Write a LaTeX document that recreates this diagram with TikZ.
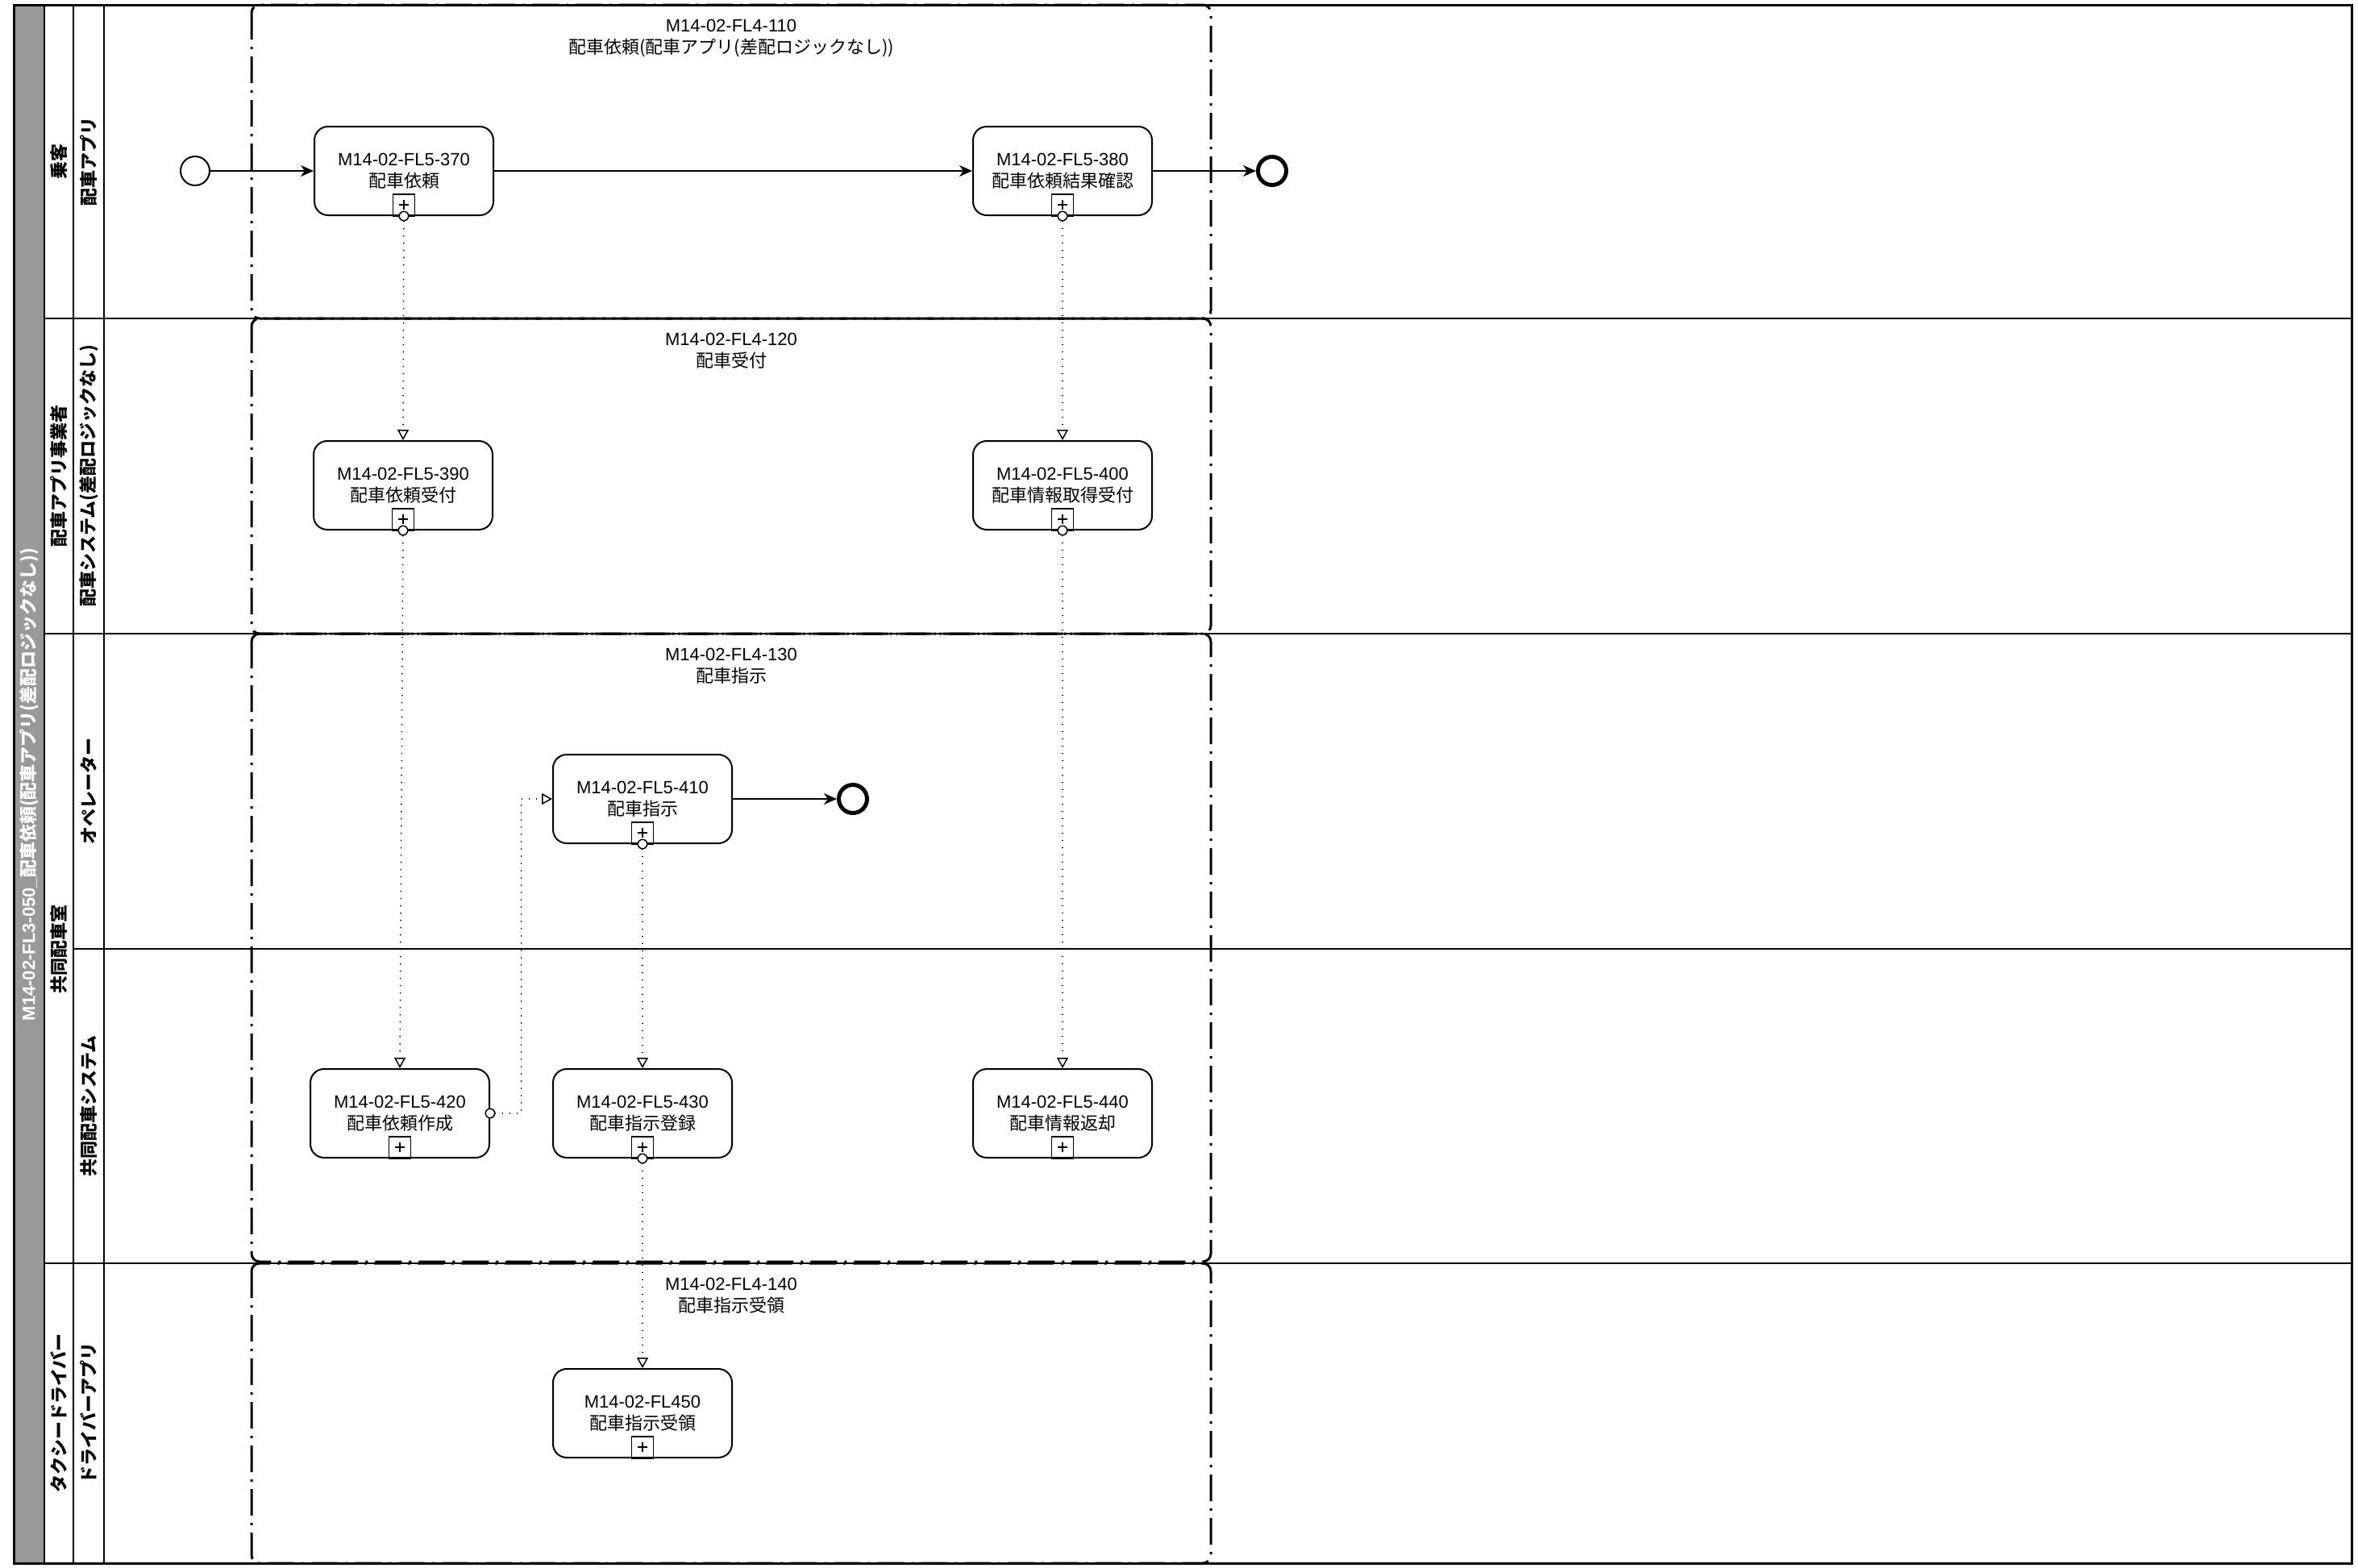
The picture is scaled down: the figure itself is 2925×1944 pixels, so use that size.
\documentclass[tikz,border=0pt]{standalone}
\usepackage{fontspec}
\setmainfont{Liberation Sans}
\newfontfamily\jp{Noto Sans CJK JP}
\usetikzlibrary{arrows.meta}
\definecolor{poolgray}{HTML}{999999}

\begin{document}
\begin{tikzpicture}[x=1pt, y=-1pt, font=\fontsize{22}{27}\selectfont,
  task/.style={draw, fill=white, line width=2pt, rounded corners=17pt, minimum width=222pt, minimum height=110pt, align=center, inner sep=0pt},
  grp/.style={line width=3pt, rounded corners=10pt, dash pattern=on 33pt off 9pt on 3pt off 9pt},
  grplbl/.style={anchor=north, align=center, inner sep=0pt},
  lanelbl/.style={rotate=90, font=\fontsize{22}{26}\selectfont\bfseries\jp, inner sep=0pt},
  seq/.style={line width=2pt, -{Stealth[length=16pt, width=14pt, inset=5pt]}},
  msg/.style={line width=1.5pt, dash pattern=on 1.5pt off 7.5pt, {Circle[length=13pt, width=13pt, fill=white]}-{Triangle[open, length=13pt, width=14pt]}},
  endev/.style={draw, circle, line width=5pt, minimum size=35pt, inner sep=0pt}]

\useasboundingbox (0,0) rectangle (2925,1944);

\fill[poolgray] (17,6) rectangle (55,1939);
\draw[line width=3pt] (17,6) rectangle (2917,1939);
\draw[line width=2pt] (55,6) -- (55,1939);
\draw[line width=2pt] (91,6) -- (91,1939);
\draw[line width=2pt] (129,6) -- (129,1939);
\foreach \y in {395, 786, 1567}
 \draw[line width=2pt] (55,\y) -- (2917,\y);
\draw[line width=2pt] (91,1177) -- (2917,1177);

\node[lanelbl, text=white] (pool) at (36,973) {{\rmfamily M14-02-FL3-050\_}配車依頼(配車アプリ(差配ロジックなし))};
\node[lanelbl] (l1) at (73,200) {乗客};
\node[lanelbl] (l2) at (73,590) {配車アプリ事業者};
\node[lanelbl] (l3) at (73,1177) {共同配車室};
\node[lanelbl] (l4) at (73,1753) {タクシードライバー};
\node[lanelbl] (s1) at (110,200) {配車アプリ};
\node[lanelbl] (s2) at (110,590) {配車システム(差配ロジックなし)};
\node[lanelbl] (s3) at (110,981) {オペレーター};
\node[lanelbl] (s4) at (110,1372) {共同配車システム};
\node[lanelbl] (s5) at (110,1753) {ドライバーアプリ};

\draw[grp] (312,6) rectangle (1502,395);
\draw[grp] (312,395) rectangle (1502,786);
\draw[grp] (312,786) rectangle (1502,1565);
\draw[grp] (312,1567) rectangle (1502,1939);
\node[grplbl] (g110) at (907,24) {M14-02-FL4-110\\{\jp 配車依頼(配車アプリ(差配ロジックなし))}};
\node[grplbl] (g120) at (907,413) {M14-02-FL4-120\\{\jp 配車受付}};
\node[grplbl] (g130) at (907,804) {M14-02-FL4-130\\{\jp 配車指示}};
\node[grplbl] (g140) at (907,1585) {M14-02-FL4-140\\{\jp 配車指示受領}};

\node[draw, circle, line width=2pt, minimum size=36pt, inner sep=0pt] (start) at (242,212) {};
\node[endev] (end1) at (1578,212) {};
\node[endev] (end2) at (1058,991) {};

\node[task] (t370) at (501,212) {M14-02-FL5-370\\{\jp 配車依頼}};
\node[task] (t380) at (1318,212) {M14-02-FL5-380\\{\jp 配車依頼結果確認}};
\node[task] (t390) at (500,602) {M14-02-FL5-390\\{\jp 配車依頼受付}};
\node[task] (t400) at (1318,602) {M14-02-FL5-400\\{\jp 配車情報取得受付}};
\node[task] (t410) at (797,991) {M14-02-FL5-410\\{\jp 配車指示}};
\node[task] (t420) at (496,1381) {M14-02-FL5-420\\{\jp 配車依頼作成}};
\node[task] (t430) at (797,1381) {M14-02-FL5-430\\{\jp 配車指示登録}};
\node[task] (t440) at (1318,1381) {M14-02-FL5-440\\{\jp 配車情報返却}};
\node[task] (t450) at (797,1753) {M14-02-FL450\\{\jp 配車指示受領}};

\foreach \t in {t370,t380,t390,t400,t410,t420,t430,t440,t450} {
 \draw[line width=1.5pt] ([xshift=-13.5pt]\t.south) rectangle ([xshift=13.5pt, yshift=27pt]\t.south);
 \draw[line width=1.5pt] ([xshift=-6pt, yshift=14pt]\t.south) -- ([xshift=6pt, yshift=14pt]\t.south);
 \draw[line width=1.5pt] ([yshift=8pt]\t.south) -- ([yshift=20pt]\t.south);
}

\draw[seq] (start) -- (t370);
\draw[seq] (t370) -- (t380);
\draw[seq] (t380) -- (end1);
\draw[seq] (t410) -- (end2);

\draw[msg] ([yshift=6.5pt]t370.south) -- (t390.north);
\draw[msg] ([yshift=6.5pt]t380.south) -- (t400.north);
\draw[msg] ([yshift=6.5pt]t390.south) -- (t420.north);
\draw[msg] ([yshift=6.5pt]t400.south) -- (t440.north);
\draw[msg] ([xshift=-6.5pt]t420.east) -- ++(45,0) |- (t410.west);
\draw[msg] ([yshift=6.5pt]t410.south) -- (t430.north);
\draw[msg] ([yshift=6.5pt]t430.south) -- (t450.north);

\end{tikzpicture}
\end{document}
